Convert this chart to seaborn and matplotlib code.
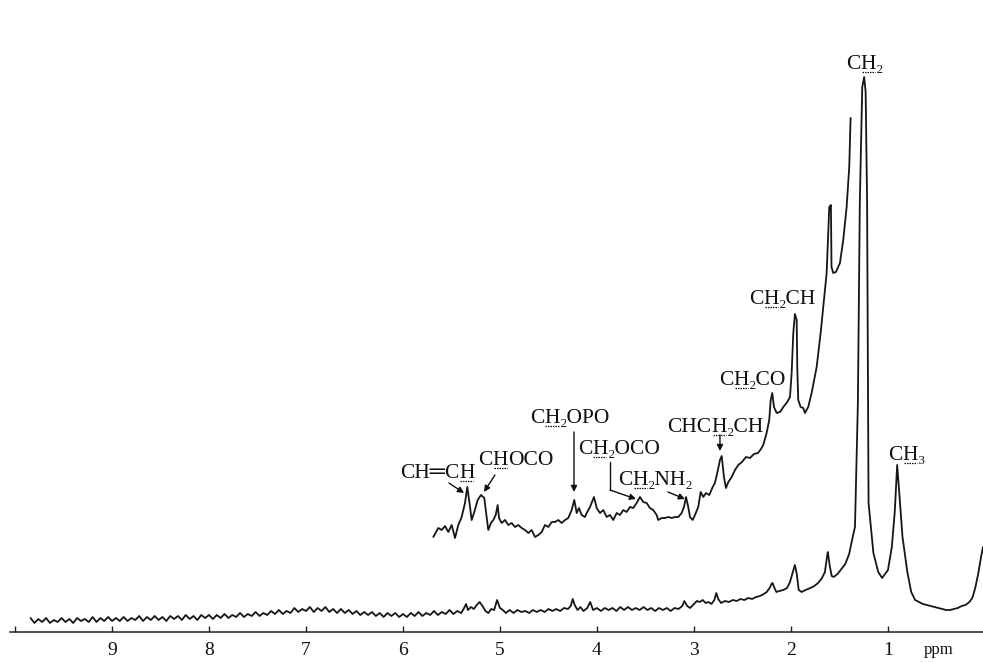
import numpy as np
import pandas as pd
import matplotlib
matplotlib.use("Agg")
import matplotlib.pyplot as plt
from matplotlib.lines import Line2D
from matplotlib.transforms import offset_copy, IdentityTransform
import seaborn as sns

# ---- full-scale trace (chemical shift in ppm, recorder intensity) ----
lower_ppm = [
    9.84, 9.80, 9.76, 9.72, 9.68, 9.64, 9.60, 9.56, 9.52, 9.48, 9.44, 9.40, 9.36, 9.32, 9.28, 9.24, 9.20, 9.16, 9.12, 9.08, 9.04, 9.00,
    8.96, 8.92, 8.88, 8.84, 8.80, 8.76, 8.72, 8.68, 8.64, 8.60, 8.56, 8.52, 8.48, 8.44, 8.40, 8.36, 8.32, 8.28, 8.24, 8.20, 8.16, 8.12, 8.08, 8.04, 8.00,
    7.96, 7.92, 7.88, 7.84, 7.80, 7.76, 7.72, 7.68, 7.64, 7.60, 7.56, 7.52, 7.48, 7.44, 7.40, 7.36, 7.32, 7.28, 7.24, 7.20, 7.16, 7.12, 7.08, 7.04, 7.00,
    6.96, 6.92, 6.88, 6.84, 6.80, 6.76, 6.72, 6.68, 6.64, 6.60, 6.56, 6.52, 6.48, 6.44, 6.40, 6.36, 6.32, 6.28, 6.24, 6.20, 6.16, 6.12, 6.08, 6.04, 6.00,
    5.96, 5.92, 5.88, 5.84, 5.80, 5.76, 5.72, 5.68, 5.64, 5.60, 5.56, 5.52, 5.48, 5.44,
    5.40, 5.37, 5.35, 5.33, 5.30, 5.27, 5.24, 5.21, 5.18, 5.15, 5.12, 5.09, 5.06, 5.03, 5.00, 4.97, 4.94, 4.90, 4.86, 4.82, 4.78, 4.74, 4.70,
    4.66, 4.62, 4.58, 4.54, 4.50, 4.46, 4.42, 4.38, 4.34, 4.30, 4.27, 4.25, 4.23, 4.20, 4.17, 4.14, 4.10, 4.07, 4.04, 4.00, 3.96, 3.92, 3.88,
    3.84, 3.80, 3.76, 3.72, 3.68, 3.64, 3.60, 3.56, 3.52, 3.48, 3.44, 3.40, 3.36, 3.32, 3.28, 3.24, 3.20, 3.16, 3.12, 3.10, 3.07, 3.04, 3.00,
    2.97, 2.94, 2.91, 2.88, 2.85, 2.82, 2.79, 2.77, 2.75, 2.72, 2.68, 2.64, 2.60, 2.56, 2.52, 2.48, 2.44, 2.40, 2.36, 2.32, 2.28, 2.25, 2.22,
    2.20, 2.19, 2.17, 2.15, 2.12, 2.08, 2.04, 2.01, 1.98, 1.96, 1.94, 1.92, 1.89, 1.85, 1.80, 1.76, 1.72, 1.68, 1.65, 1.63, 1.62, 1.60, 1.58,
    1.56, 1.52, 1.48, 1.44, 1.40, 1.37, 1.34, 1.31, 1.29, 1.265, 1.245, 1.23, 1.215, 1.20, 1.15, 1.10, 1.06, 1.00, 0.96, 0.93, 0.905, 0.88,
    0.85, 0.80, 0.76, 0.72, 0.68, 0.64, 0.60, 0.56, 0.52, 0.48, 0.44, 0.40, 0.36, 0.32, 0.28, 0.24, 0.20, 0.16, 0.13, 0.10, 0.07, 0.04, 0.02,
]
lower_int = [
    14, 9, 13, 10, 14, 9, 12, 10, 14, 10, 13, 9, 14, 11, 13, 10, 15, 10, 14, 11, 15, 11,
    14, 11, 15, 11, 14, 12, 16, 11, 15, 12, 16, 12, 15, 11, 16, 13, 16, 12, 17, 13, 16, 12, 17, 14, 17,
    13, 17, 14, 18, 14, 17, 15, 19, 15, 18, 16, 20, 16, 19, 17, 21, 18, 22, 18, 21, 19, 24, 20, 23, 21,
    25, 20, 24, 21, 25, 20, 23, 19, 23, 19, 22, 18, 21, 17, 20, 17, 20, 16, 19, 15, 19, 16, 19, 15, 18,
    15, 19, 16, 20, 16, 19, 17, 21, 17, 20, 18, 22, 18, 21,
    19, 24, 28, 22, 25, 23, 27, 30, 26, 21, 19, 23, 22, 32, 24, 22, 19, 22, 19, 22, 20, 21, 19,
    22, 20, 22, 20, 23, 21, 23, 21, 24, 23, 26, 33, 27, 22, 25, 21, 24, 30, 22, 24, 21, 24, 22,
    24, 21, 25, 22, 25, 22, 24, 22, 25, 22, 24, 21, 24, 22, 24, 21, 24, 23, 26, 31, 26, 24, 28,
    31, 30, 32, 29, 30, 28, 32, 39, 33, 29, 31, 30, 32, 31, 33, 32, 34, 33, 35, 36, 38, 40, 44,
    48, 49, 44, 40, 41, 42, 44, 50, 60, 67, 58, 42, 40, 42, 44, 46, 49, 54, 60, 74, 80, 66, 56,
    55, 58, 63, 68, 78, 92, 105, 229, 430, 545, 555, 540, 430, 129, 79, 60, 54, 62, 85, 120, 167, 135,
    95, 60, 40, 32, 30, 28, 27, 26, 25, 24, 23, 22, 22, 23, 24, 26, 27, 30, 34, 44, 58, 75, 85,
]

# ---- amplified trace, 5.7 - 1.4 ppm ----
upper_ppm = [
    5.688, 5.636, 5.601, 5.567, 5.533, 5.498, 5.464, 5.430, 5.395, 5.361, 5.337, 5.309, 5.292, 5.265, 5.230, 5.196, 5.162, 5.137,
    5.121, 5.093, 5.069, 5.044, 5.024, 5.010, 4.983, 4.948, 4.914, 4.880, 4.845, 4.811, 4.777, 4.742, 4.708, 4.674, 4.639, 4.605,
    4.570, 4.536, 4.502, 4.467, 4.433, 4.399, 4.364, 4.330, 4.296, 4.261, 4.234, 4.209, 4.186, 4.158, 4.124, 4.106, 4.072, 4.031,
    4.003, 3.969, 3.935, 3.900, 3.866, 3.832, 3.797, 3.763, 3.729, 3.694, 3.660, 3.626, 3.591, 3.557, 3.523, 3.488, 3.454, 3.420,
    3.385, 3.368, 3.333, 3.299, 3.265, 3.230, 3.196, 3.162, 3.127, 3.103, 3.082, 3.059, 3.041, 3.013, 2.990, 2.956, 2.931, 2.904,
    2.876, 2.842, 2.807, 2.784, 2.760, 2.732, 2.714, 2.691, 2.670, 2.646, 2.611, 2.577, 2.543, 2.505, 2.464, 2.423, 2.381, 2.340,
    2.309, 2.286, 2.251, 2.224, 2.209, 2.193, 2.175, 2.147, 2.113, 2.079, 2.038, 2.010, 1.993, 1.976, 1.959, 1.941, 1.935, 1.925,
    1.900, 1.873, 1.856, 1.822, 1.787, 1.735, 1.694, 1.660, 1.632, 1.605, 1.588, 1.582, 1.564, 1.536, 1.495, 1.461, 1.426, 1.399,
    1.385,
]
upper_int = [
    95, 104, 102, 106, 100, 107, 94, 107, 115, 129, 145, 125, 112, 120, 132, 137, 134, 115,
    102, 109, 112, 117, 127, 114, 109, 112, 107, 109, 105, 107, 104, 102, 99, 102, 95, 97,
    100, 107, 105, 110, 110, 112, 109, 112, 114, 122, 132, 119, 124, 117, 115, 119, 125, 135,
    124, 119, 122, 115, 117, 112, 119, 117, 122, 120, 125, 124, 129, 135, 130, 129, 124, 122,
    117, 112, 114, 114, 115, 114, 115, 115, 119, 125, 135, 125, 115, 112, 117, 125, 140, 135,
    139, 137, 145, 149, 159, 172, 176, 155, 144, 150, 155, 162, 167, 170, 175, 174, 178, 179,
    183, 187, 199, 212, 232, 239, 225, 219, 220, 225, 230, 235, 259, 299, 318, 312, 265, 232,
    225, 224, 219, 225, 239, 265, 299, 332, 359, 425, 427, 365, 359, 360, 369, 392, 425, 465,
    514,
]

axis_ticks = [10, 9, 8, 7, 6, 5, 4, 3, 2, 1]
tick_labels = ["", "9", "8", "7", "6", "5", "4", "3", "2", "1"]

# peak assignments: text pieces (underlined = observed proton), baseline position,
# optional arrow tail/head in (ppm, intensity)
assignments = [
    ([("C", 0), ("H", 1), ("\u2082", 0)], (1.237, 563), None, None),
    ([("C", 0), ("H", 1), ("\u2083", 0)], (0.804, 172), None, None),
    ([("C", 0), ("H", 1), ("\u2082CH", 0)], (2.082, 328), None, None),
    ([("C", 0), ("H", 1), ("\u2082CO", 0)], (2.392, 247), None, None),
    ([("CHC", 0), ("H", 1), ("\u2082CH", 0)], (2.773, 200), (2.732, 197), (2.732, 181)),
    ([("C", 0), ("H", 1), ("\u2082NH\u2082", 0)], (3.392, 147), (3.268, 140), (3.093, 133)),
    ([("C", 0), ("H", 1), ("\u2082OCO", 0)], (3.773, 178), None, None),
    ([("C", 0), ("H", 1), ("\u2082OPO", 0)], (4.278, 209), (4.237, 200), (4.237, 140)),
    ([("C", 0), ("H", 1), ("OCO", 0)], (4.835, 167), (5.052, 157), (5.165, 140)),
    ([("CH\u2550C", 0), ("H", 1)], (5.649, 154), (5.526, 149), (5.371, 139)),
]
LABEL_SIZE = 15.5
INK = "#111111"

sns.set_theme(style="white")
plt.rcParams["font.family"] = ["Liberation Serif", "DejaVu Serif", "DejaVu Sans"]

fig = plt.figure(figsize=(9.83, 6.62), dpi=100)
ax = fig.add_axes([10 / 983, 30 / 662, 973 / 983, 632 / 662])

lower = pd.DataFrame({"ppm": lower_ppm, "intensity": lower_int})
upper = pd.DataFrame({"ppm": upper_ppm, "intensity": upper_int})
line_kw = dict(color="#161616", linewidth=1.3, sort=False, estimator=None, legend=False)
sns.lineplot(data=lower, x="ppm", y="intensity", ax=ax, **line_kw)
sns.lineplot(data=upper, x="ppm", y="intensity", ax=ax, **line_kw)

ax.set_xlim(10.052, 0.02)
ax.set_ylim(0, 632)
ax.set_xlabel("")
ax.set_ylabel("")
ax.set_yticks([])
for side in ("top", "left", "right"):
    ax.spines[side].set_visible(False)
ax.spines["bottom"].set_color("#222222")
ax.spines["bottom"].set_linewidth(1.1)
ax.set_xticks(axis_ticks)
ax.set_xticklabels(tick_labels)
ax.tick_params(axis="x", direction="in", length=4, width=1.0, color="#222222",
               pad=7, labelsize=14, labelcolor=INK, bottom=True)

ax.text(0.474, -0.0285, "ppm", transform=ax.get_xaxis_transform(),
        ha="center", va="center", fontsize=12, color=INK)

renderer = fig.canvas.get_renderer()


def rich_label(xy, parts, size):
    """Centered label built from pieces; underlined pieces get a dotted rule."""
    widths = []
    for s, _ in parts:
        probe = ax.text(0, 0, s, fontsize=size)
        widths.append(probe.get_window_extent(renderer).width)
        probe.remove()
    x_off = -sum(widths) / 2
    base = ax.transData.transform(xy)
    for (s, ul), w in zip(parts, widths):
        tr = offset_copy(ax.transData, fig=fig, x=x_off, y=0, units="dots")
        ax.text(xy[0], xy[1], s, transform=tr, ha="left", va="baseline",
                fontsize=size, color=INK)
        if ul:
            x0 = base[0] + x_off + 1
            fig.add_artist(Line2D([x0, x0 + w - 2], [base[1] - 3, base[1] - 3],
                                  transform=IdentityTransform(), color=INK,
                                  lw=0.9, linestyle=(0, (1.2, 0.8))))
        x_off += w


arrow_kw = dict(arrowstyle="-|>", color=INK, lw=1.0, mutation_scale=9, shrinkA=0, shrinkB=0)
for parts, pos, tail, head in assignments:
    rich_label(pos, parts, LABEL_SIZE)
    if tail is not None:
        ax.annotate("", xy=head, xytext=tail, arrowprops=arrow_kw)

# CH2OCO leader: vertical drop then slanted arrow to the peak
ax.plot([3.866, 3.866], [170, 142], color=INK, lw=1.0)
ax.annotate("", xy=(3.598, 133), xytext=(3.866, 142), arrowprops=arrow_kw)

fig.savefig("out.png", dpi=100, facecolor="white")
